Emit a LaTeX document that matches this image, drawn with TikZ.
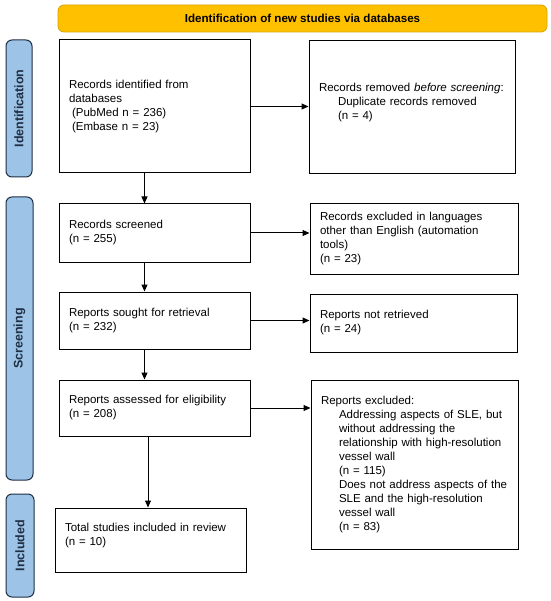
\documentclass[tikz,border=0pt]{standalone}
\usepackage{fontspec}
\setmainfont{Liberation Sans}
\usetikzlibrary{arrows.meta}
\definecolor{hdrfill}{HTML}{FFC000}
\definecolor{hdrdraw}{HTML}{D9A400}
\definecolor{sidefill}{HTML}{9DC3E6}
\definecolor{sidedraw}{HTML}{1F2F45}
\newcommand\oneln[1]{\mbox{#1}}
\begin{document}
\begin{tikzpicture}[x=1pt,y=-1pt,
  every node/.style={font=\fontsize{11.5}{14}\selectfont},
  box/.style={draw=black,line width=1pt,fill=white,align=left,inner xsep=10pt,inner ysep=0pt,anchor=center},
  hdr/.style={draw=hdrdraw,fill=hdrfill,rounded corners=6pt,line width=0.8pt,font=\bfseries\fontsize{11.6}{14}\selectfont,minimum width=489pt,minimum height=27pt,inner sep=0pt},
  side/.style={draw=sidedraw,fill=sidefill,rounded corners=6pt,line width=1pt,rotate=90,font=\bfseries\fontsize{12.5}{14}\selectfont,inner sep=0pt,text=sidedraw},
  arr/.style={draw=black,line width=1pt,-{Triangle[length=7pt,width=6pt]}}
]
\useasboundingbox (0,0) rectangle (550,601);
\fill[white] (0,0) rectangle (550,601);

\node[hdr] (hdr) at (302.5,18.5) {Identification of new studies via databases};

\node[side,minimum width=137pt,minimum height=26pt] (sid) at (19,108.5) {Identification};
\node[side,minimum width=283pt,minimum height=27pt] (sscr) at (19.5,338.5) {Screening};
\node[side,minimum width=103pt,minimum height=28pt] (sinc) at (20,545.5) {Included};

\node[box,text width=171pt,minimum height=133pt] (b1) at (154.5,106.5)
 {Records identified from\\databases\\\hspace*{3pt}(PubMed n = 236)\\\hspace*{3pt}(Embase n = 23)};
\node[box,text width=186pt,minimum height=133pt] (b2) at (412,107.5)
 {\oneln{Records removed \textit{before screening}:}\\\hspace*{19pt}\oneln{Duplicate records removed}\\\hspace*{19pt}(n = 4)\par\kern10pt};
\node[box,text width=171pt,minimum height=58pt] (b3) at (154.5,233)
 {Records screened\\(n = 255)};
\node[box,text width=188pt,minimum height=70pt] (b4) at (414,239)
 {\oneln{Records excluded in languages}\\\oneln{other than English (automation}\\tools)\\(n = 23)};
\node[box,text width=187pt,minimum height=58pt] (b6) at (413.5,323)
 {Reports not retrieved\\(n = 24)};
\node[box,text width=171pt,minimum height=57pt] (b5) at (154.5,320.5)
 {Reports sought for retrieval\\(n = 232)};
\node[box,text width=171pt,minimum height=56pt] (b7) at (154.5,408)
 {Reports assessed for eligibility\\(n = 208)};
\node[box,text width=187pt,minimum height=169pt] (b8) at (414.5,464.5)
 {Reports excluded:\\
 \hspace*{18pt}\oneln{Addressing aspects of SLE, but}\\
 \hspace*{18pt}\oneln{without addressing the}\\
 \hspace*{18pt}\oneln{relationship with high-resolution}\\
 \hspace*{18pt}\oneln{vessel wall}\\
 \hspace*{18pt}(n = 115)\\
 \hspace*{18pt}\oneln{Does not address aspects of the}\\
 \hspace*{18pt}\oneln{SLE and the high-resolution}\\
 \hspace*{18pt}\oneln{vessel wall}\\
 \hspace*{18pt}(n = 83)};
\node[box,text width=171pt,minimum height=64pt] (b9) at (150.5,540)
 {Total studies included in review\\(n = 10)\par\kern8pt};

\draw[arr] (b1.east) -- (b1.east -| b2.west);
\draw[arr] (b3.east) -- (b3.east -| b4.west);
\draw[arr] (b5.east) -- (b5.east -| b6.west);
\draw[arr] (b7.east) -- (b7.east -| b8.west);

\draw[arr] ([xshift=-10pt]b1.south) -- ([xshift=-10pt]b3.north);
\draw[arr] ([xshift=-10pt]b3.south) -- ([xshift=-10pt]b5.north);
\draw[arr] ([xshift=-10pt]b5.south) -- ([xshift=-10pt]b7.north);
\draw[arr] ([xshift=-6.5pt]b7.south) -- ([xshift=-2.5pt]b9.north);
\end{tikzpicture}
\end{document}
